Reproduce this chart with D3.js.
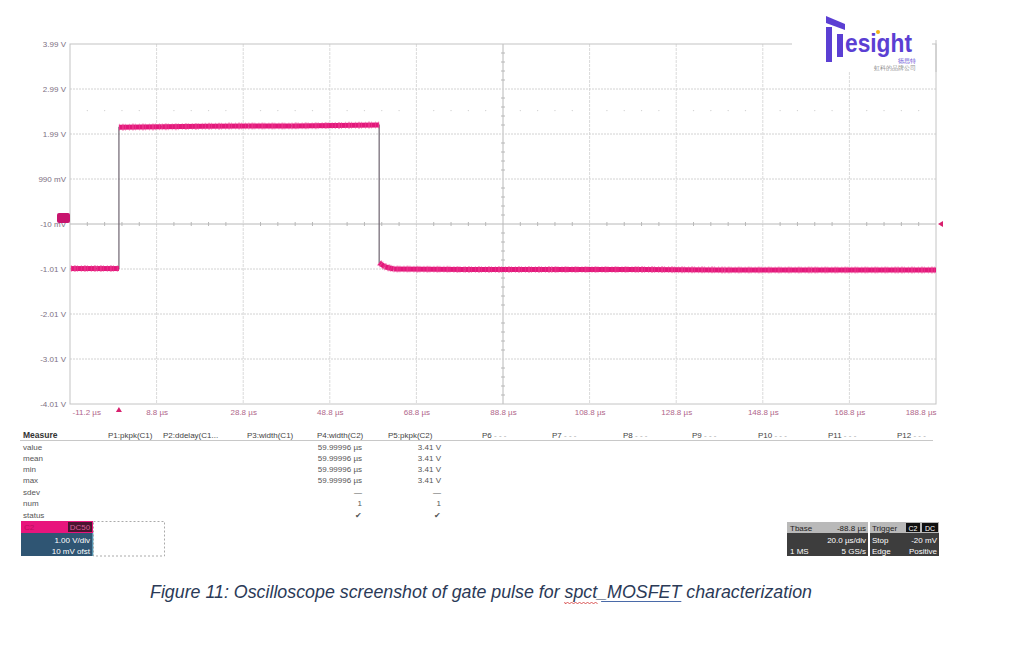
<!DOCTYPE html>
<html>
<head>
<meta charset="utf-8">
<script src="https://cdn.jsdelivr.net/npm/d3@7"></script>
<style>
  html, body { margin: 0; padding: 0; background: #ffffff; }
  svg { display: block; }
  text { font-family: "Liberation Sans", Arial, sans-serif; }
</style>
</head>
<body>
<svg id="chart" width="1024" height="646"></svg>
<script>
// ---------------- data ----------------
const xTickValues = [-11.2, 8.8, 28.8, 48.8, 68.8, 88.8, 108.8, 128.8, 148.8, 168.8, 188.8];
const xTickLabels = ["-11.2 µs", "8.8 µs", "28.8 µs", "48.8 µs", "68.8 µs", "88.8 µs", "108.8 µs", "128.8 µs", "148.8 µs", "168.8 µs", "188.8 µs"];
const yTickValues = [3.99, 2.99, 1.99, 0.99, -0.01, -1.01, -2.01, -3.01, -4.01];
const yTickLabels = ["3.99 V", "2.99 V", "1.99 V", "990 mV", "-10 mV", "-1.01 V", "-2.01 V", "-3.01 V", "-4.01 V"];

// gate pulse trace (time in µs, volts)
const traceTime  = [-11.0, -5.0, 0.1, 0.1, 10.0, 20.0, 30.0, 40.0, 50.0, 60.2, 60.2, 60.6, 61.5, 63.5, 80.0, 100.0, 120.0, 140.0, 160.0, 180.0, 188.8];
const traceVolts = [-1.00, -1.00, -1.00, 2.14, 2.15, 2.16, 2.17, 2.17, 2.18, 2.19, -0.87, -0.90, -0.96, -1.01, -1.02, -1.02, -1.02, -1.03, -1.03, -1.03, -1.03];

const measureRows = ["value", "mean", "min", "max", "sdev", "num", "status"];
const measureHeaders = ["P1:pkpk(C1)", "P2:ddelay(C1...", "P3:width(C1)", "P4:width(C2)", "P5:pkpk(C2)"];
const emptyParams = ["P6", "P7", "P8", "P9", "P10", "P11", "P12"];
const p4Values = ["59.99996 µs", "59.99996 µs", "59.99996 µs", "59.99996 µs", "—", "1", "✔"];
const p5Values = ["3.41 V", "3.41 V", "3.41 V", "3.41 V", "—", "1", "✔"];

const caption = "Figure 11: Oscilloscope screenshot of gate pulse for spct_MOSFET characterization";

// ---------------- drawing ----------------
const svg = d3.select("#chart");
const L = 70, R = 936, T = 44, B = 404;
const x = d3.scaleLinear().domain([-11.2, 188.8]).range([L, R]);
const y = d3.scaleLinear().domain([-4.01, 3.99]).range([B, T]);
const magenta = "#e3177b";

// grid
const grid = svg.append("g");
grid.selectAll("line.v").data(xTickValues.slice(1, -1)).join("line")
  .attr("x1", d => x(d)).attr("x2", d => x(d)).attr("y1", T).attr("y2", B)
  .attr("stroke", d => d === 88.8 ? "#b8b8b8" : "#dadada").attr("stroke-width", 1)
  .attr("stroke-dasharray", d => d === 88.8 ? null : "3,1");
grid.selectAll("line.h").data(yTickValues.slice(1, -1)).join("line")
  .attr("x1", L).attr("x2", R).attr("y1", d => y(d)).attr("y2", d => y(d))
  .attr("stroke", d => d === -0.01 ? "#b8b8b8" : "#d2d2d2").attr("stroke-width", 1)
  .attr("stroke-dasharray", d => d === -0.01 ? null : "2,1");

// minor ticks on centre axes
const minorX = d3.range(-11.2, 188.9, 4).filter(v => Math.abs((v + 11.2) % 20) > 0.01);
grid.selectAll("line.mx").data(minorX).join("line")
  .attr("x1", d => x(d)).attr("x2", d => x(d)).attr("y1", y(-0.01) - 2).attr("y2", y(-0.01) + 2)
  .attr("stroke", "#b8b8b8");
const minorY = d3.range(-4.01, 3.995, 0.2).filter(v => Math.abs(((v + 4.01) % 1 + 1) % 1) > 0.01 && Math.abs(((v + 4.01) % 1 + 1) % 1 - 1) > 0.01);
grid.selectAll("line.my").data(minorY).join("line")
  .attr("x1", x(88.8) - 2).attr("x2", x(88.8) + 2).attr("y1", d => y(d)).attr("y2", d => y(d))
  .attr("stroke", "#b8b8b8");
// faint dotted row (half division)
grid.selectAll("circle.dot").data(minorX).join("circle")
  .attr("cx", d => x(d)).attr("cy", y(2.51)).attr("r", 0.7).attr("fill", "#d0d0d0");

// frame
svg.append("rect").attr("x", L).attr("y", T).attr("width", R - L).attr("height", B - T)
  .attr("fill", "none").attr("stroke", "#c4c4c4").attr("stroke-width", 1);

// axes labels
const yAxis = d3.axisLeft(y).tickValues(yTickValues).tickSize(0).tickPadding(4)
  .tickFormat((d, i) => yTickLabels[i]);
const gy = svg.append("g").attr("transform", `translate(${L},0)`).call(yAxis);
gy.select(".domain").remove();
gy.selectAll("text").attr("font-size", 8).attr("fill", "#7d6f82").attr("font-family", "Liberation Sans, Arial, sans-serif");

const xAxis = d3.axisBottom(x).tickValues(xTickValues).tickSize(0).tickPadding(5)
  .tickFormat((d, i) => xTickLabels[i]);
const gx = svg.append("g").attr("transform", `translate(0,${B})`).call(xAxis);
gx.select(".domain").remove();
gx.selectAll("text").attr("font-size", 8).attr("fill", "#b0668a").attr("font-family", "Liberation Sans, Arial, sans-serif")
  .attr("text-anchor", (d, i) => i === 0 ? "start" : (i === xTickValues.length - 1 ? "end" : "middle"))
  .attr("dx", (d, i) => i === 0 ? 2 : 0);

// trace
const pts = traceTime.map((t, i) => [t, traceVolts[i]]);
const line = d3.line().x(d => x(d[0])).y(d => y(d[1]));
svg.append("path").attr("d", line(pts)).attr("fill", "none").attr("stroke", "#6e6470").attr("stroke-width", 1.2);
const segs = [];
for (let i = 0; i < pts.length - 1; i++) {
  if (Math.abs(pts[i + 1][1] - pts[i][1]) < 0.5) segs.push([pts[i], pts[i + 1]]);
}
svg.append("g").selectAll("path").data(segs).join("path")
  .attr("d", d => line(d)).attr("fill", "none").attr("stroke", magenta)
  .attr("stroke-width", 5).attr("stroke-linecap", "butt");
// noise edge texture
svg.append("g").selectAll("path").data(segs).join("path")
  .attr("d", d => line(d)).attr("fill", "none").attr("stroke", "#ef4a98")
  .attr("stroke-width", 7).attr("stroke-dasharray", "1,2,2,1,1,3").attr("opacity", 0.5);

// channel ground marker (left)
svg.append("rect").attr("x", 57).attr("y", y(-0.01) - 11).attr("width", 13).attr("height", 10).attr("rx", 2)
  .attr("fill", "#c8146e");
// trigger level marker (right)
svg.append("path")
  .attr("d", `M${R + 2},${y(-0.01)} L${R + 7},${y(-0.01) - 3} L${R + 7},${y(-0.01) + 3} Z`)
  .attr("fill", "#d8206e");
// trigger time marker (bottom)
svg.append("path")
  .attr("d", `M${x(0.1)},${B + 3} L${x(0.1) - 3},${B + 8} L${x(0.1) + 3},${B + 8} Z`)
  .attr("fill", "#d8206e");

// ---------------- measure table ----------------
const tbl = svg.append("g").attr("font-size", 8).attr("fill", "#333");
tbl.append("text").attr("x", 23).attr("y", 438).attr("font-weight", "bold").attr("font-size", 8.5).text("Measure");
const hdrX = [108, 163, 247, 317, 388];
tbl.selectAll("text.hdr").data(measureHeaders).join("text")
  .attr("x", (d, i) => hdrX[i]).attr("y", 438).attr("fill", "#444").text(d => d);
const emptyX = [482, 552, 623, 692, 758, 828, 897];
const et = tbl.selectAll("text.emp").data(emptyParams).join("text")
  .attr("x", (d, i) => emptyX[i]).attr("y", 438).attr("fill", "#444");
et.append("tspan").text(d => d);
et.append("tspan").attr("fill", "#aaa").text(" - - -");
tbl.append("line").attr("x1", 20).attr("x2", 933).attr("y1", 440.5).attr("y2", 440.5).attr("stroke", "#c8c8c8");
const rowY = [450, 461, 472, 483, 495, 506, 518];
tbl.selectAll("text.row").data(measureRows).join("text")
  .attr("x", 23).attr("y", (d, i) => rowY[i]).attr("fill", "#555").text(d => d);
tbl.selectAll("text.p4").data(p4Values).join("text")
  .attr("x", 362).attr("y", (d, i) => rowY[i]).attr("text-anchor", "end")
  .attr("fill", "#555").text(d => d);
tbl.selectAll("text.p5").data(p5Values).join("text")
  .attr("x", 441).attr("y", (d, i) => rowY[i]).attr("text-anchor", "end")
  .attr("fill", "#555").text(d => d);

// ---------------- channel descriptor box ----------------
const ch = svg.append("g").attr("font-size", 8);
ch.append("rect").attr("x", 21).attr("y", 521).attr("width", 72).attr("height", 12).attr("fill", "#e8157d");
ch.append("text").attr("x", 24).attr("y", 530).attr("fill", "#b8105f").text("C2");
ch.append("rect").attr("x", 68).attr("y", 522).attr("width", 24).attr("height", 10).attr("fill", "#4a1430");
ch.append("text").attr("x", 80).attr("y", 530).attr("text-anchor", "middle").attr("fill", "#d8609a").text("DC50");
ch.append("rect").attr("x", 21).attr("y", 533).attr("width", 72).attr("height", 23).attr("fill", "#2f5573");
ch.append("line").attr("x1", 93).attr("x2", 93).attr("y1", 533).attr("y2", 556).attr("stroke", "#7fd0e8");
ch.append("text").attr("x", 90).attr("y", 543).attr("text-anchor", "end").attr("fill", "#fff").text("1.00 V/div");
ch.append("text").attr("x", 90).attr("y", 554).attr("text-anchor", "end").attr("fill", "#fff").text("10 mV ofst");
ch.append("rect").attr("x", 93.5).attr("y", 521.5).attr("width", 71).attr("height", 34.5)
  .attr("fill", "none").attr("stroke", "#aaa").attr("stroke-dasharray", "2,2");

// ---------------- timebase / trigger box ----------------
const tb = svg.append("g").attr("font-size", 8);
tb.append("rect").attr("x", 787).attr("y", 522).attr("width", 81).attr("height", 11).attr("fill", "#b9b9b9");
tb.append("rect").attr("x", 787).attr("y", 533).attr("width", 81).attr("height", 23).attr("fill", "#3d3d3d");
tb.append("rect").attr("x", 870).attr("y", 522).attr("width", 69).attr("height", 11).attr("fill", "#b9b9b9");
tb.append("rect").attr("x", 870).attr("y", 533).attr("width", 69).attr("height", 23).attr("fill", "#3d3d3d");
tb.append("text").attr("x", 790).attr("y", 531).attr("fill", "#222").text("Tbase");
tb.append("text").attr("x", 866).attr("y", 531).attr("text-anchor", "end").attr("fill", "#222").text("-88.8 µs");
tb.append("text").attr("x", 866).attr("y", 543).attr("text-anchor", "end").attr("fill", "#fff").text("20.0 µs/div");
tb.append("text").attr("x", 790).attr("y", 554).attr("fill", "#fff").text("1 MS");
tb.append("text").attr("x", 866).attr("y", 554).attr("text-anchor", "end").attr("fill", "#fff").text("5 GS/s");
tb.append("text").attr("x", 872).attr("y", 531).attr("fill", "#222").text("Trigger");
tb.append("rect").attr("x", 906).attr("y", 523).attr("width", 14).attr("height", 9).attr("fill", "#111");
tb.append("text").attr("x", 913).attr("y", 530.5).attr("text-anchor", "middle").attr("fill", "#fff").attr("font-size", 7).text("C2");
tb.append("rect").attr("x", 922).attr("y", 523).attr("width", 16).attr("height", 9).attr("fill", "#111");
tb.append("text").attr("x", 930).attr("y", 530.5).attr("text-anchor", "middle").attr("fill", "#fff").attr("font-size", 7).text("DC");
tb.append("text").attr("x", 872).attr("y", 543).attr("fill", "#fff").text("Stop");
tb.append("text").attr("x", 937).attr("y", 543).attr("text-anchor", "end").attr("fill", "#fff").text("-20 mV");
tb.append("text").attr("x", 872).attr("y", 554).attr("fill", "#fff").text("Edge");
tb.append("text").attr("x", 937).attr("y", 554).attr("text-anchor", "end").attr("fill", "#fff").text("Positive");

// ---------------- logo watermark ----------------
const logo = svg.append("g");
logo.append("rect").attr("x", 792).attr("y", 10).attr("width", 140).attr("height", 62).attr("fill", "#fff");
svg.append("line").attr("x1", R).attr("x2", R).attr("y1", 40).attr("y2", 72).attr("stroke", "#c4c4c4");
const purple = "#5b3fd3";
logo.append("path").attr("d", "M826,16 L845,24 L845,30 L826,23 Z").attr("fill", purple);
logo.append("rect").attr("x", 826).attr("y", 27).attr("width", 6).attr("height", 35).attr("fill", purple);
logo.append("rect").attr("x", 837).attr("y", 34).attr("width", 6).attr("height", 23).attr("fill", purple);
logo.append("text").attr("x", 845).attr("y", 52).attr("font-size", 26).attr("font-weight", "bold")
  .attr("fill", purple).attr("textLength", 67).attr("lengthAdjust", "spacingAndGlyphs")
  .attr("font-family", "Liberation Sans, Arial, sans-serif").text("esight");
logo.append("circle").attr("cx", 878).attr("cy", 32).attr("r", 2).attr("fill", "#f2b316");
logo.append("text").attr("x", 916).attr("y", 63).attr("text-anchor", "end").attr("font-size", 5.5)
  .attr("fill", purple).attr("font-family", "Noto Sans CJK SC").text("德思特");
logo.append("text").attr("x", 916).attr("y", 69.5).attr("text-anchor", "end").attr("font-size", 6)
  .attr("fill", "#8a8a8a").attr("font-family", "Noto Sans CJK SC").text("虹科的品牌公司");

// ---------------- caption ----------------
const cap = svg.append("text").attr("x", 150).attr("y", 598).attr("font-size", 17.5)
  .attr("font-style", "italic").attr("fill", "#2b3a57")
  .attr("textLength", 662).attr("lengthAdjust", "spacingAndGlyphs").text(caption);
const capNode = cap.node();
const iS = caption.indexOf("spct"), iM = caption.indexOf("MOSFET");
try {
  const total = capNode.getComputedTextLength();
  const sc = 662 / total;
  const raw = capNode.getSubStringLength(0, caption.length);
  const k = 662 / raw;
  const sx0 = 150 + capNode.getSubStringLength(0, iS) * (isFinite(k) ? 1 : 1);
  const sw = capNode.getSubStringLength(iS, 4);
  const mx0 = 150 + capNode.getSubStringLength(0, iM);
  const mw = capNode.getSubStringLength(iM, 6);
  let wave = `M${sx0},602`;
  for (let px = sx0; px < sx0 + sw; px += 2) wave += ` L${px + 1},${(Math.round((px - sx0) / 2) % 2) ? 602 : 604}`;
  svg.append("path").attr("d", wave).attr("fill", "none").attr("stroke", "#d03030").attr("stroke-width", 0.8);
  svg.append("line").attr("x1", mx0 - 6).attr("x2", mx0 + mw).attr("y1", 601.5).attr("y2", 601.5)
    .attr("stroke", "#4a6aa8").attr("stroke-width", 1);
} catch (e) {}
</script>
</body>
</html>
